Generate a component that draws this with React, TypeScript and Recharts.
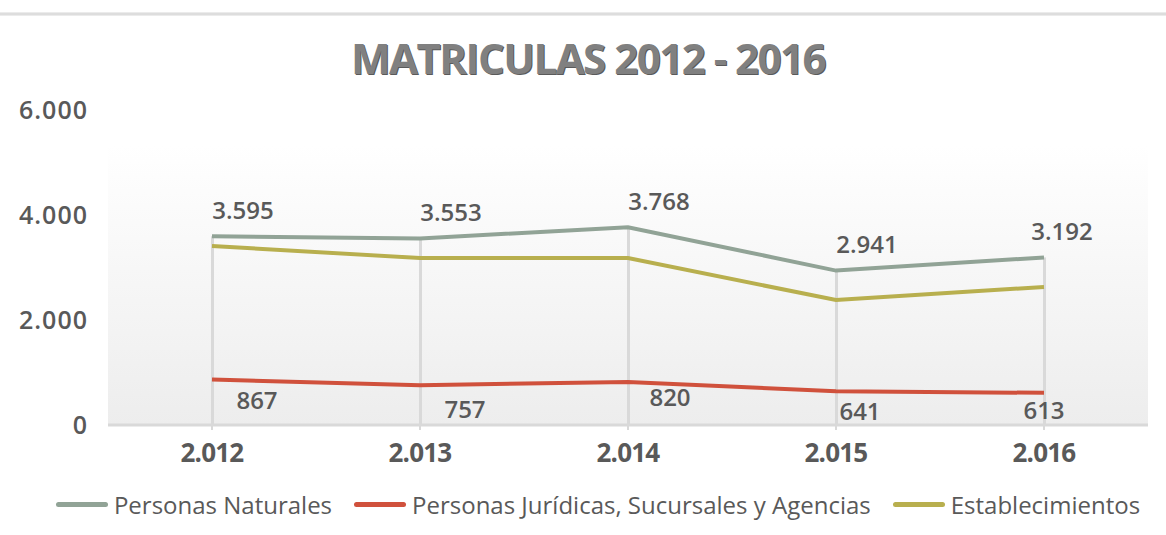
import React from 'react';
import { ComposedChart, Line, Bar, XAxis, YAxis, LabelList, ReferenceArea } from 'recharts';

const years = ['2.012', '2.013', '2.014', '2.015', '2.016'];
const naturales = [3595, 3553, 3768, 2941, 3192];
const juridicas = [867, 757, 820, 641, 613];
const establecimientos = [3410, 3180, 3180, 2380, 2630];
const yTicks = [0, 2000, 4000, 6000];

const data = years.map((y, i) => ({
  year: y,
  naturales: naturales[i],
  juridicas: juridicas[i],
  establecimientos: establecimientos[i],
}));

const C_NAT = '#91a396';
const C_JUR = '#d0513c';
const C_EST = '#b8af4e';
const TXT = '#595959';
const FONT = '"Open Sans", sans-serif';

const fmt = (v: number) => v.toLocaleString('de-DE');

const NatLabel = (props: any) => {
  const { x, y, value, index } = props;
  const dx = index === 4 ? 18 : 31;
  return (
    <text x={x + dx} y={y - 27} textAnchor="middle" dominantBaseline="central"
      fill={TXT} fontSize={24} fontWeight={600} fontFamily={FONT}>
      {fmt(value)}
    </text>
  );
};

// manual label nudges, as in the source chart
const jurDx = [45, 45, 42, 24, 0];
const jurDy = [20, 23, 15, 19, 17];
const JurLabel = (props: any) => {
  const { x, y, value, index } = props;
  return (
    <text x={x + jurDx[index]} y={y + jurDy[index]} textAnchor="middle" dominantBaseline="central"
      fill={TXT} fontSize={24} fontWeight={600} fontFamily={FONT}>
      {fmt(value)}
    </text>
  );
};

const legendItems = [
  { label: 'Personas Naturales', color: C_NAT },
  { label: 'Personas Jurídicas, Sucursales y Agencias', color: C_JUR },
  { label: 'Establecimientos', color: C_EST },
];

export default function App() {
  return (
    <div style={{ position: 'absolute', left: 0, top: 0, width: 1166, height: 535, background: '#fff', overflow: 'hidden' }}>
      <div style={{ position: 'absolute', left: 0, top: 12, width: 1166, height: 4, background: 'linear-gradient(#f2f2f2, #d6d6d6, #f2f2f2)' }} />
      <div style={{
        position: 'absolute', left: 5, top: 28, width: 1166, textAlign: 'center',
        fontFamily: FONT, fontWeight: 700, fontSize: 42, letterSpacing: -1.5, color: '#808080',
        textShadow: '1px 1px 0 #5a5a5a', lineHeight: '60px',
      }}>
        MATRICULAS 2012 - 2016
      </div>
      <ComposedChart width={1166} height={535} data={data}
        margin={{ top: 110, right: 18, bottom: 80, left: 0 }}
        style={{ position: 'absolute', left: 0, top: 0 }}>
        <defs>
          <linearGradient id="plotBg" x1="0" y1="0" x2="0" y2="1">
            <stop offset="0%" stopColor="#ffffff" />
            <stop offset="100%" stopColor="#ededed" />
          </linearGradient>
        </defs>
        <ReferenceArea y1={0} y2={5330} fill="url(#plotBg)" fillOpacity={1} stroke="none" ifOverflow="visible" />
        <XAxis dataKey="year" axisLine={{ stroke: '#d9d9d9', strokeWidth: 3 }}
          tickLine={{ stroke: '#d9d9d9', strokeWidth: 2 }} tickSize={5} tickMargin={14}
          tick={{ fill: TXT, fontSize: 26, fontWeight: 700, fontFamily: FONT, letterSpacing: -0.8 }} />
        <YAxis width={108} domain={[0, 6000]} ticks={yTicks} axisLine={false} tickLine={false}
          tickMargin={14} tickFormatter={fmt}
          tick={{ fill: TXT, fontSize: 25, fontWeight: 600, fontFamily: FONT, letterSpacing: 1 }} />
        <Bar dataKey="naturales" barSize={3} fill="#d9d9d9" isAnimationActive={false} />
        <Line dataKey="establecimientos" stroke={C_EST} strokeWidth={4} dot={false} isAnimationActive={false} />
        <Line dataKey="juridicas" stroke={C_JUR} strokeWidth={4} dot={false} isAnimationActive={false}>
          <LabelList dataKey="juridicas" content={JurLabel} />
        </Line>
        <Line dataKey="naturales" stroke={C_NAT} strokeWidth={4} dot={false} isAnimationActive={false}>
          <LabelList dataKey="naturales" content={NatLabel} />
        </Line>
      </ComposedChart>
      <div style={{
        position: 'absolute', left: 15, top: 488, width: 1166, display: 'flex', justifyContent: 'center',
        fontFamily: FONT, fontSize: 24, color: TXT, gap: 22,
      }}>
        {legendItems.map(it => (
          <div key={it.label} style={{ display: 'flex', alignItems: 'center' }}>
            <span style={{ display: 'inline-block', width: 52, height: 5, borderRadius: 3, background: it.color, marginRight: 6 }} />
            <span>{it.label}</span>
          </div>
        ))}
      </div>
    </div>
  );
}
